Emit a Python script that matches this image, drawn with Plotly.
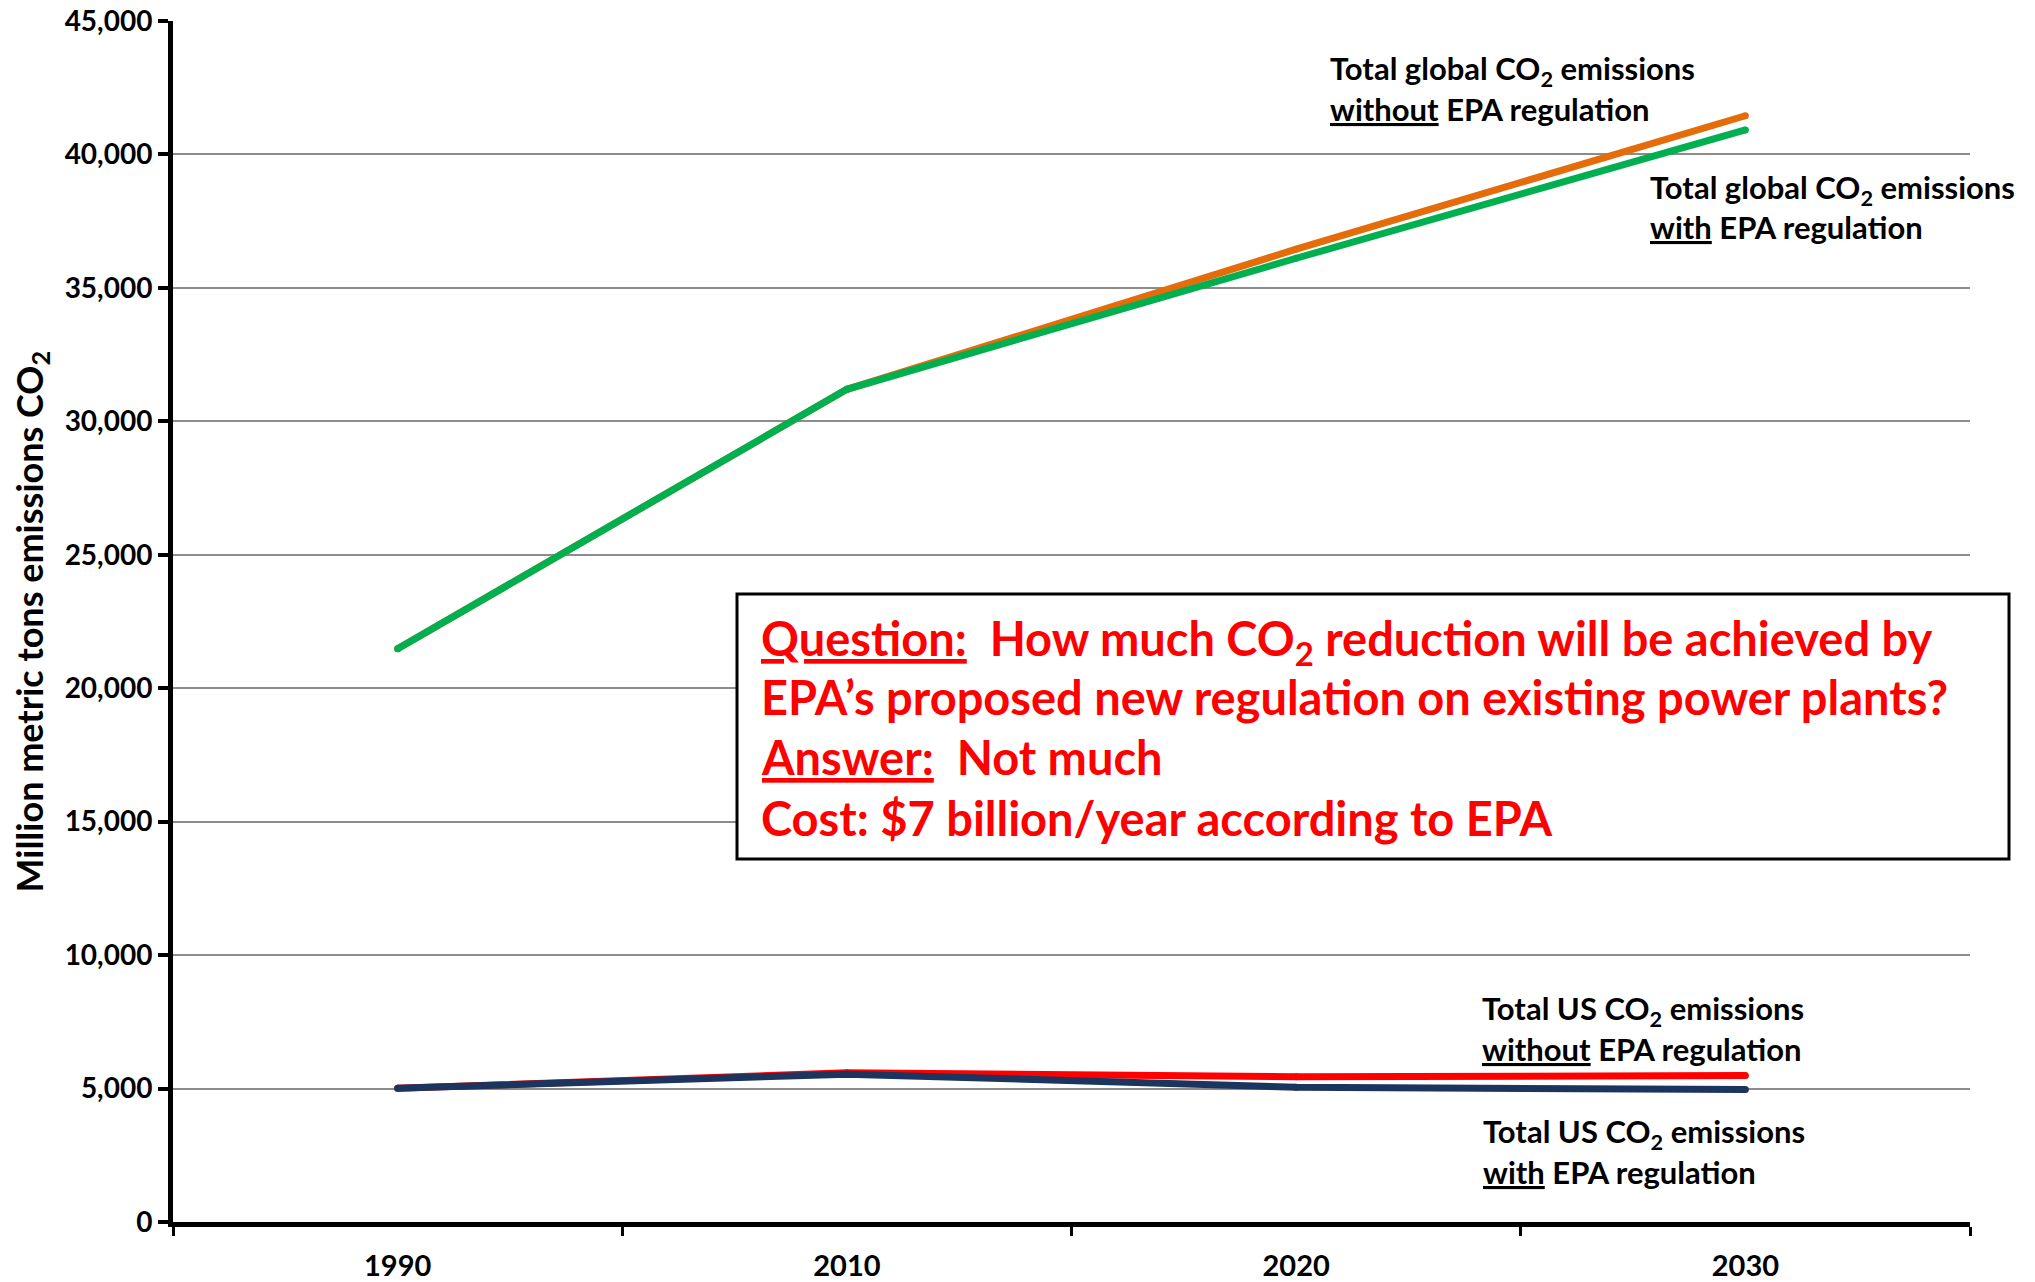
import plotly.graph_objects as go

years = ["1990", "2010", "2020", "2030"]
global_without = [21480, 31200, 36450, 41450]
global_with = [21480, 31200, 36110, 40920]
us_without = [5010, 5590, 5440, 5490]
us_with = [5010, 5540, 5050, 4960]
y_ticks = [0, 5000, 10000, 15000, 20000, 25000, 30000, 35000, 40000, 45000]
y_tick_labels = ["0", "5,000", "10,000", "15,000", "20,000", "25,000", "30,000", "35,000", "40,000", "45,000"]

FONT = "Lato, 'Open Sans', sans-serif"
LW = 7

fig = go.Figure()

def add_line(vals, color):
    fig.add_trace(go.Scatter(
        x=years, y=vals, mode="lines+markers",
        line=dict(color=color, width=LW),
        marker=dict(color=color, size=LW, line=dict(width=0)),
        showlegend=False, hoverinfo="skip"))

add_line(global_without, "#E46C0A")
add_line(global_with, "#00B050")
add_line(us_without, "#FF0000")
add_line(us_with, "#1C355E")

W, H = 2035, 1282
OFF = 8  # page body margin
L, R, T, B = 173, 1970, 21, 1222

def px(X):
    return (X - L) / (R - L)

def py(Y):
    return (B - Y) / (B - T)

annos = []

def label(text, X, Y, size=31, color="black"):
    annos.append(dict(text=text, x=px(X), y=py(Y), xref="paper", yref="paper",
                      xanchor="left", yanchor="middle", showarrow=False, align="left",
                      font=dict(family=FONT, size=size, color=color, weight="bold")))

label("Total global CO<sub>2</sub> emissions", 1328, 71)
label("<u>without</u> EPA regulation", 1328, 109)
label("Total global CO<sub>2</sub> emissions", 1648, 189)
label("<u>with</u> EPA regulation", 1648, 227)
label("Total US CO<sub>2</sub> emissions", 1480, 1010)
label("<u>without</u> EPA regulation", 1480, 1049)
label("Total US CO<sub>2</sub> emissions", 1481, 1133)
label("<u>with</u> EPA regulation", 1481, 1172)

red = "#FF0000"
label("<u>Question:</u>  How much CO<sub>2</sub> reduction will be achieved by", 759, 641, 47, red)
label("EPA’s proposed new regulation on existing power plants?", 759, 697, 47, red)
label("<u>Answer:</u>  Not much", 759, 757, 47, red)
label("Cost: $7 billion/year according to EPA", 759, 818, 47, red)

annos.append(dict(text="Million metric tons emissions CO<sub>2</sub>", x=px(31), y=0.5,
                  xref="paper", yref="paper", xanchor="center", yanchor="middle",
                  textangle=-90, showarrow=False,
                  font=dict(family=FONT, size=36, color="black", weight="bold")))

fig.update_layout(
    width=W, height=H,
    margin=dict(l=L - OFF, r=W - R + OFF, t=T - OFF, b=H - B + OFF, autoexpand=False),
    paper_bgcolor="white", plot_bgcolor="white",
    annotations=annos,
    shapes=[dict(type="rect", xref="paper", yref="paper",
                 x0=px(737), x1=px(2009), y0=py(859), y1=py(594),
                 line=dict(color="black", width=3), fillcolor="white", layer="above")],
    font=dict(family=FONT, color="black"),
)

fig.update_xaxes(
    type="category", range=[-0.5, 3.5], automargin=False,
    showline=True, linecolor="black", linewidth=5,
    ticks="outside", tickson="boundaries", ticklen=9, tickwidth=3, tickcolor="black",
    showgrid=False, zeroline=False,
    tickfont=dict(family=FONT, size=29, color="black", weight="bold"),
    ticklabelstandoff=14, ticklabeloverflow="allow",
)
fig.update_yaxes(
    range=[0, 45000], tickvals=y_ticks, ticktext=y_tick_labels, automargin=False,
    showline=True, linecolor="black", linewidth=5,
    ticks="outside", ticklen=10, tickwidth=4, tickcolor="black",
    showgrid=True, gridcolor="#8C8C8C", gridwidth=1.5, zeroline=False,
    tickfont=dict(family=FONT, size=28, color="black", weight="bold"),
    ticklabeloverflow="allow",
)

fig.write_html("out.html")
